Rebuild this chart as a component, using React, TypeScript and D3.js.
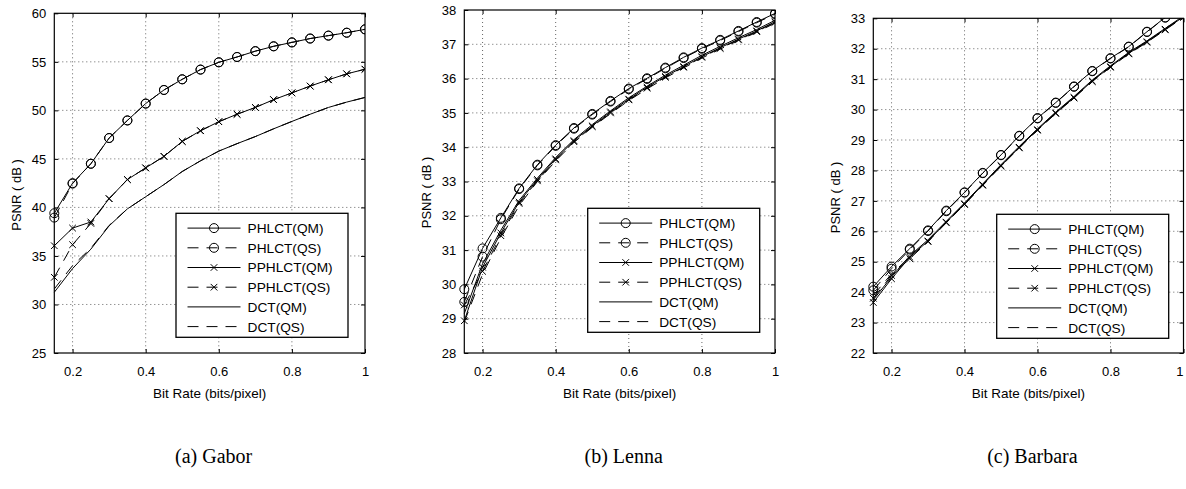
import React, { useRef, useEffect } from 'react';
import * as d3 from 'd3';

// bit rates (bits/pixel) used by every curve
const bitRate = [0.15, 0.2, 0.25, 0.3, 0.35, 0.4, 0.45, 0.5, 0.55, 0.6, 0.65, 0.7, 0.75, 0.8, 0.85, 0.9, 0.95, 1.0];

const seriesNames = ['PHLCT(QM)', 'PHLCT(QS)', 'PPHLCT(QM)', 'PPHLCT(QS)', 'DCT(QM)', 'DCT(QS)'];
const seriesMarker = ['o', 'o', 'x', 'x', '', ''];
const seriesDashed = [false, true, false, true, false, true];

const xTicks = [0.2, 0.4, 0.6, 0.8, 1];

// (a) Gabor
const gaborTicks = [25, 30, 35, 40, 45, 50, 55, 60];
const gaborPhlctQM = [39.4, 42.5, 44.5, 47.15, 48.96, 50.7, 52.1, 53.2, 54.2, 54.95, 55.5, 56.1, 56.6, 57.0, 57.4, 57.7, 58.0, 58.35];
const gaborPhlctQS = [38.95, 42.45, 44.5, 47.15, 48.96, 50.7, 52.1, 53.2, 54.2, 54.95, 55.5, 56.1, 56.6, 57.0, 57.4, 57.7, 58.0, 58.35];
const gaborPphlctQM = [36.05, 37.87, 38.5, 40.9, 42.87, 44.07, 45.26, 46.8, 47.9, 48.83, 49.6, 50.3, 51.1, 51.8, 52.5, 53.15, 53.76, 54.24];
const gaborPphlctQS = [32.8, 36.16, 38.35, 40.9, 42.87, 44.07, 45.26, 46.8, 47.9, 48.83, 49.6, 50.3, 51.1, 51.8, 52.5, 53.15, 53.76, 54.24];
const gaborDctQM = [31.26, 33.7, 35.7, 38.1, 39.85, 41.1, 42.35, 43.7, 44.8, 45.8, 46.57, 47.3, 48.1, 48.86, 49.6, 50.3, 50.85, 51.33];
const gaborDctQS = [31.6, 34.0, 35.8, 38.15, 39.85, 41.1, 42.35, 43.7, 44.8, 45.8, 46.57, 47.3, 48.1, 48.86, 49.6, 50.3, 50.85, 51.33];

// (b) Lenna
const lennaTicks = [28, 29, 30, 31, 32, 33, 34, 35, 36, 37, 38];
const lennaPhlctQM = [29.86, 31.05, 31.94, 32.8, 33.49, 34.06, 34.56, 34.97, 35.35, 35.71, 36.01, 36.32, 36.62, 36.89, 37.13, 37.39, 37.65, 37.9];
const lennaPhlctQS = [29.49, 30.81, 31.9, 32.78, 33.47, 34.04, 34.54, 34.95, 35.33, 35.69, 35.99, 36.3, 36.6, 36.87, 37.11, 37.37, 37.63, 37.88];
const lennaPphlctQM = [28.94, 30.5, 31.5, 32.4, 33.06, 33.66, 34.19, 34.62, 35.03, 35.4, 35.75, 36.06, 36.35, 36.64, 36.9, 37.15, 37.39, 37.66];
const lennaPphlctQS = [29.4, 30.38, 31.42, 32.36, 33.02, 33.63, 34.16, 34.6, 35.0, 35.38, 35.72, 36.04, 36.33, 36.62, 36.88, 37.13, 37.37, 37.64];
const lennaDctQM = [29.15, 30.6, 31.58, 32.45, 33.1, 33.7, 34.22, 34.66, 35.06, 35.44, 35.78, 36.1, 36.39, 36.68, 36.94, 37.19, 37.43, 37.7];
const lennaDctQS = [28.9, 30.3, 31.35, 32.3, 33.0, 33.6, 34.14, 34.58, 34.98, 35.36, 35.7, 36.02, 36.31, 36.6, 36.86, 37.11, 37.35, 37.62];

// (c) Barbara
const barbaraTicks = [22, 23, 24, 25, 26, 27, 28, 29, 30, 31, 32, 33];
const barbaraPhlctQM = [24.18, 24.84, 25.43, 26.03, 26.68, 27.28, 27.92, 28.51, 29.14, 29.72, 30.23, 30.76, 31.27, 31.69, 32.07, 32.56, 33.03, 33.45];
const barbaraPhlctQS = [24.06, 24.77, 25.4, 26.01, 26.66, 27.27, 27.91, 28.5, 29.13, 29.71, 30.22, 30.75, 31.26, 31.68, 32.06, 32.55, 33.02, 33.44];
const barbaraPphlctQM = [23.66, 24.44, 25.15, 25.68, 26.3, 26.9, 27.53, 28.16, 28.76, 29.34, 29.89, 30.4, 30.94, 31.41, 31.85, 32.23, 32.64, 33.05];
const barbaraPphlctQS = [23.8, 24.55, 25.1, 25.66, 26.28, 26.88, 27.51, 28.14, 28.74, 29.32, 29.87, 30.38, 30.92, 31.39, 31.83, 32.21, 32.62, 33.03];
const barbaraDctQM = [23.75, 24.5, 25.2, 25.72, 26.33, 26.93, 27.56, 28.19, 28.79, 29.37, 29.92, 30.43, 30.97, 31.44, 31.88, 32.26, 32.67, 33.08];
const barbaraDctQS = [23.9, 24.6, 25.15, 25.7, 26.31, 26.91, 27.54, 28.17, 28.77, 29.35, 29.9, 30.41, 30.95, 31.42, 31.86, 32.24, 32.65, 33.06];

const captions = ['(a) Gabor', '(b) Lenna', '(c) Barbara'];

const panels = [
  {
    left: 54.3, right: 365, top: 13.3, bottom: 353, yDomain: [25, 60], yTicks: gaborTicks,
    series: [gaborPhlctQM, gaborPhlctQS, gaborPphlctQM, gaborPphlctQS, gaborDctQM, gaborDctQS],
    legend: [176, 213.3], ylabelY: 195,
  },
  {
    left: 464.3, right: 775, top: 10, bottom: 353, yDomain: [28, 38], yTicks: lennaTicks,
    series: [lennaPhlctQM, lennaPhlctQS, lennaPphlctQM, lennaPphlctQS, lennaDctQM, lennaDctQS],
    legend: [587.7, 208.3], ylabelY: 192.5,
  },
  {
    left: 873.3, right: 1183.5, top: 18.3, bottom: 353, yDomain: [22, 33], yTicks: barbaraTicks,
    series: [barbaraPhlctQM, barbaraPhlctQS, barbaraPphlctQM, barbaraPphlctQS, barbaraDctQM, barbaraDctQS],
    legend: [996.7, 214.3], ylabelY: 197.5,
  },
];

const FONT = "'Liberation Sans', Arial, Helvetica, sans-serif";
const DASH = '11 8';

function drawMarker(g, kind, cx, cy) {
  if (kind === 'o') {
    g.append('circle').attr('cx', cx).attr('cy', cy).attr('r', 4.5)
      .attr('fill', 'none').attr('stroke', '#000').attr('stroke-width', 1);
  } else if (kind === 'x') {
    const s = 3.3;
    g.append('path')
      .attr('d', `M${cx - s},${cy - s}L${cx + s},${cy + s}M${cx - s},${cy + s}L${cx + s},${cy - s}`)
      .attr('stroke', '#000').attr('stroke-width', 1).attr('fill', 'none');
  }
}

export default function App() {
  const svgRef = useRef(null);

  useEffect(() => {
    const svg = d3.select(svgRef.current);
    svg.selectAll('*').remove();

    panels.forEach((p, pi) => {
      const x = d3.scaleLinear().domain([0.15, 1]).range([p.left, p.right]);
      const y = d3.scaleLinear().domain(p.yDomain).range([p.bottom, p.top]);
      const g = svg.append('g');

      svg.append('clipPath').attr('id', `clip${pi}`)
        .append('rect')
        .attr('x', p.left - 6).attr('y', p.top)
        .attr('width', p.right - p.left + 6).attr('height', p.bottom - p.top);

      // dotted grid
      g.selectAll('.vgrid').data(xTicks.filter(t => t < 1)).join('line')
        .attr('x1', d => x(d)).attr('x2', d => x(d))
        .attr('y1', p.top).attr('y2', p.bottom)
        .attr('stroke', '#666').attr('stroke-width', 1).attr('stroke-dasharray', '1 3');
      g.selectAll('.hgrid').data(p.yTicks.filter(t => t > p.yDomain[0] && t < p.yDomain[1])).join('line')
        .attr('y1', d => y(d)).attr('y2', d => y(d))
        .attr('x1', p.left).attr('x2', p.right)
        .attr('stroke', '#666').attr('stroke-width', 1).attr('stroke-dasharray', '1 3');

      // axes, ticks pointing inward on all four sides
      const fmt = d3.format('');
      const xb = g.append('g').attr('transform', `translate(0,${p.bottom})`)
        .call(d3.axisBottom(x).tickValues(xTicks).tickSize(-4).tickSizeOuter(0).tickPadding(13.5).tickFormat(fmt));
      const yl = g.append('g').attr('transform', `translate(${p.left},0)`)
        .call(d3.axisLeft(y).tickValues(p.yTicks).tickSize(-4).tickSizeOuter(0).tickPadding(8).tickFormat(fmt));
      g.append('g').attr('transform', `translate(0,${p.top})`)
        .call(d3.axisTop(x).tickValues(xTicks).tickSize(-4).tickSizeOuter(0).tickFormat(() => ''));
      g.append('g').attr('transform', `translate(${p.right},0)`)
        .call(d3.axisRight(y).tickValues(p.yTicks).tickSize(-4).tickSizeOuter(0).tickFormat(() => ''));
      g.selectAll('.domain').remove();
      g.selectAll('.tick line').attr('stroke', '#000');
      [xb, yl].forEach(a => a.attr('font-family', FONT).attr('font-size', 13)
        .selectAll('text').attr('fill', '#000'));
      // keep the last x label of the right panel inside the page
      if (p.right > 1180) {
        xb.selectAll('.tick text').filter(d => d === 1).attr('text-anchor', 'end').attr('dx', '-0.05em');
      }

      // lines
      const lineGen = d3.line().x((d, i) => x(bitRate[i])).y(d => y(d));
      const plot = g.append('g').attr('clip-path', `url(#clip${pi})`);
      p.series.forEach((vals, si) => {
        plot.append('path')
          .attr('d', lineGen(vals))
          .attr('fill', 'none').attr('stroke', '#000').attr('stroke-width', 1)
          .attr('stroke-dasharray', seriesDashed[si] ? DASH : null);
        if (seriesMarker[si]) {
          vals.forEach((v, i) => drawMarker(plot, seriesMarker[si], x(bitRate[i]), y(v)));
        }
      });

      // box
      g.append('rect').attr('x', p.left).attr('y', p.top)
        .attr('width', p.right - p.left).attr('height', p.bottom - p.top)
        .attr('fill', 'none').attr('stroke', '#000').attr('stroke-width', 1.2);

      // legend
      const [lx, ly] = p.legend;
      const lg = g.append('g');
      lg.append('rect').attr('x', lx).attr('y', ly).attr('width', 172).attr('height', 124)
        .attr('fill', '#fff').attr('stroke', '#000').attr('stroke-width', 1.3);
      seriesNames.forEach((name, si) => {
        const ey = ly + 14.8 + si * 19.7;
        lg.append('line').attr('x1', lx + 11.5).attr('x2', lx + 64.5).attr('y1', ey).attr('y2', ey)
          .attr('stroke', '#000').attr('stroke-width', 1)
          .attr('stroke-dasharray', seriesDashed[si] ? DASH : null);
        if (seriesMarker[si]) drawMarker(lg, seriesMarker[si], lx + 38, ey);
        lg.append('text').attr('x', lx + 71.5).attr('y', ey).attr('dy', '0.36em')
          .attr('font-family', FONT).attr('font-size', 13.7).text(name);
      });

      // axis titles
      g.append('text').attr('x', (p.left + p.right) / 2).attr('y', 398)
        .attr('text-anchor', 'middle').attr('font-family', FONT).attr('font-size', 13.5)
        .text('Bit Rate (bits/pixel)');
      g.append('text')
        .attr('transform', `translate(${p.left - 33},${p.ylabelY}) rotate(-90)`)
        .attr('text-anchor', 'middle').attr('font-family', FONT).attr('font-size', 13)
        .text('PSNR ( dB )');

      // subfigure caption
      g.append('text').attr('x', (p.left + p.right) / 2 + 4).attr('y', 463)
        .attr('text-anchor', 'middle').attr('font-family', "'Liberation Serif', 'Times New Roman', serif")
        .attr('font-size', 20).text(captions[pi]);
    });
  }, []);

  return (
    <svg ref={svgRef} width={1186} height={489}
      style={{ position: 'absolute', left: 0, top: 0, background: '#fff' }} />
  );
}
